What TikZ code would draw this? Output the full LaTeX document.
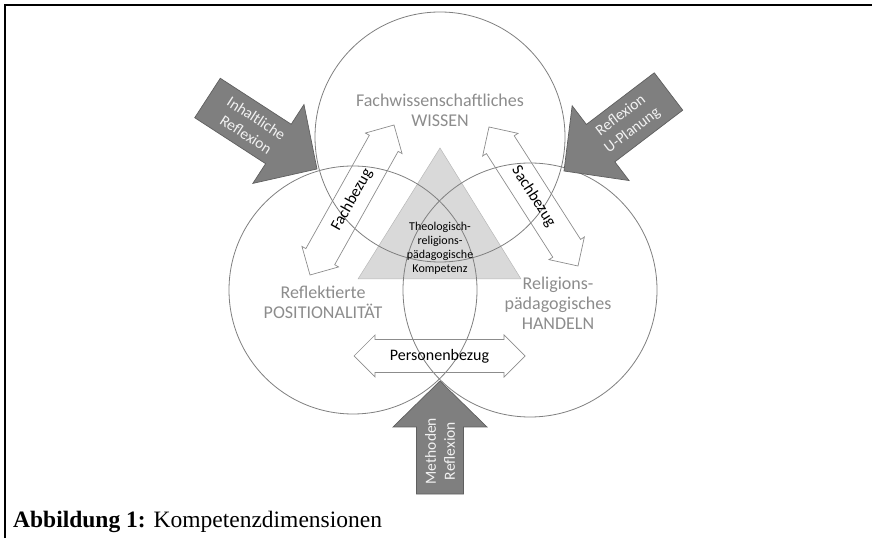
\documentclass[tikz,border=0pt]{standalone}
\usepackage{fontspec}
\setmainfont{Liberation Serif}
\newfontfamily\carl{Carlito}
\usetikzlibrary{calc}
\definecolor{circgray}{HTML}{7F7F7F}
\definecolor{labgray}{HTML}{8C8C8C}
\definecolor{trifill}{HTML}{D9D9D9}
\definecolor{blockfill}{HTML}{7F7F7F}
\definecolor{blockline}{HTML}{5F5F5F}
\definecolor{arrline}{HTML}{8C8C8C}
\tikzset{
 circ/.style={draw=circgray, line width=0.8pt},
 tri/.style={fill=trifill, draw=trifill!85!black, line width=0.5pt},
 hollow/.style={draw=arrline, line width=0.7pt, line join=miter},
 block/.style={fill=blockfill, draw=blockline, line width=0.7pt, line join=miter},
 dimlabel/.style={font=\carl\fontsize{18}{20}\selectfont, text=labgray, align=center, inner sep=0pt},
 trilabel/.style={font=\carl\fontsize{12}{14}\selectfont, align=center, inner sep=0pt},
 bezug/.style={font=\carl\fontsize{16}{19}\selectfont, inner sep=0pt},
 blocktext/.style={font=\carl\fontsize{15.5}{19}\selectfont, text=white!95!black, align=center, inner sep=0pt},
 frameline/.style={line width=2.2pt, line join=miter}
}
\newcommand{\hollowdbl}[2]{%
 \draw[hollow] (#1)
 -- ($(#1)!21pt!(#2)!21pt!90:(#2)$)
 -- ($(#1)!21pt!(#2)!16.5pt!90:(#2)$)
 -- ($(#2)!21pt!(#1)!16.5pt!-90:(#1)$)
 -- ($(#2)!21pt!(#1)!21pt!-90:(#1)$)
 -- (#2)
 -- ($(#2)!21pt!(#1)!21pt!90:(#1)$)
 -- ($(#2)!21pt!(#1)!16.5pt!90:(#1)$)
 -- ($(#1)!21pt!(#2)!16.5pt!-90:(#2)$)
 -- ($(#1)!21pt!(#2)!21pt!-90:(#2)$)
 -- cycle;}
\newcommand{\blockarr}[2]{%
 \draw[block] ($(#1)!23.5pt!90:(#2)$)
 -- ($(#2)!46pt!(#1)!23.5pt!-90:(#1)$)
 -- ($(#2)!46pt!(#1)!47pt!-90:(#1)$)
 -- (#2)
 -- ($(#2)!46pt!(#1)!47pt!90:(#1)$)
 -- ($(#2)!46pt!(#1)!23.5pt!90:(#1)$)
 -- ($(#1)!23.5pt!-90:(#2)$)
 -- cycle;}
\begin{document}
\begin{tikzpicture}[x=1pt,y=1pt]
\useasboundingbox (0,0) rectangle (872,538);
% frame
\coordinate (f1) at (5,0);
\coordinate (f2) at (5,533);
\coordinate (f3) at (872,533);
\draw[frameline] (f1) -- (f2) -- (f3);
% triangle
\coordinate (t1) at (440,390);
\coordinate (t2) at (358,259);
\coordinate (t3) at (521,259);
\draw[tri] (t1) -- (t2) -- (t3) -- cycle;
% circles
\coordinate (ctop) at (440,401);
\coordinate (cleft) at (353,248);
\coordinate (cright) at (530,248);
\draw[circ] (ctop) circle[radius=125pt];
\draw[circ] (cleft) circle[radius=124pt];
\draw[circ] (cright) circle[radius=127pt];
% labels
\node[dimlabel] (wissen) at (440,428) {Fachwissenschaftliches\\WISSEN};
\node[dimlabel] (posit) at (323,236) {Reflektierte\\POSITIONALITÄT};
\node[dimlabel] (handeln) at (558,235) {Religions-\\pädagogisches\\HANDELN};
\node[trilabel] (komp) at (440,290) {Theologisch-\\religions-\\pädagogische\\Kompetenz};
% hollow double arrows
\coordinate (fb1) at (310,263);
\coordinate (fb2) at (394,413);
\hollowdbl{fb1}{fb2}
\path (fb1) -- (fb2) node[bezug, midway, sloped] (fachbez) {Fachbezug};
\coordinate (sb1) at (489,411);
\coordinate (sb2) at (578,272);
\hollowdbl{sb1}{sb2}
\path (sb1) -- (sb2) node[bezug, midway, sloped] (sachbez) {Sachbezug};
\coordinate (pb1) at (354,182);
\coordinate (pb2) at (525,182);
\hollowdbl{pb1}{pb2}
\path (pb1) -- (pb2) node[bezug, midway] (persbez) {Personenbezug};
% block arrows
\coordinate (ir1) at (207.5,440);
\coordinate (ir2) at (317,369);
\blockarr{ir1}{ir2}
\path (ir1) -- (ir2) node[blocktext, pos=0.4, sloped] (inhalt) {Inhaltliche\\Reflexion};
\coordinate (ur1) at (668.5,446.5);
\coordinate (ur2) at (564,367);
\blockarr{ur1}{ur2}
\path (ur2) -- (ur1) node[blocktext, pos=0.6, sloped] (uplan) {Reflexion\\U-Planung};
\coordinate (mr1) at (440,44);
\coordinate (mr2) at (440,157);
\blockarr{mr1}{mr2}
\path (mr1) -- (mr2) node[blocktext, pos=0.38, sloped] (meth) {Methoden\\Reflexion};
% caption
\node[anchor=base west, inner sep=0pt, font=\fontsize{23.5}{28}\selectfont] (cap) at (13,11) {\textbf{Abbildung 1:} Kompetenzdimensionen};
\end{tikzpicture}
\end{document}
